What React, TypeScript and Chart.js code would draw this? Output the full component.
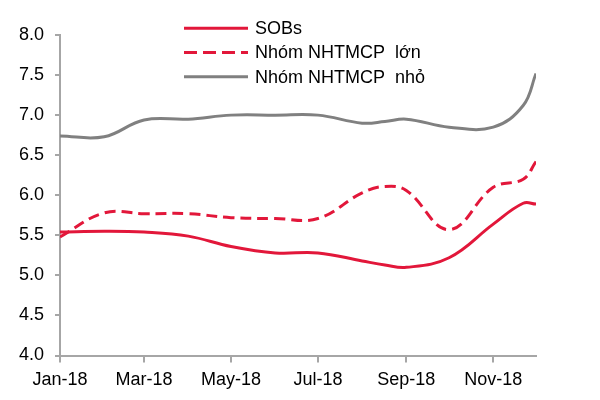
import React, { useEffect, useRef } from "react";
import { Chart, registerables } from "chart.js";

Chart.register(...registerables);

// day offsets from 1 Jan 2018
const days = [0, 31, 59, 90, 120, 151, 181, 212, 228, 243, 273, 304, 325, 334];
const sobs = [5.54, 5.55, 5.54, 5.49, 5.36, 5.28, 5.28, 5.18, 5.13, 5.1, 5.22, 5.64, 5.9, 5.89];
const nhomLon = [5.48, 5.78, 5.77, 5.77, 5.72, 5.71, 5.71, 6.03, 6.11, 6.06, 5.57, 6.1, 6.2, 6.42];
const nhomNho = [6.74, 6.73, 6.94, 6.95, 7.0, 7.0, 7.0, 6.9, 6.92, 6.95, 6.85, 6.85, 7.12, 7.52];

const tickDays = [0, 59, 120, 181, 243, 304];
const tickLabels = ["Jan-18", "Mar-18", "May-18", "Jul-18", "Sep-18", "Nov-18"];

const seriesNames = ["SOBs", "Nhóm NHTMCP  lớn", "Nhóm NHTMCP  nhỏ"];

const RED = "#e2173a";
const GRAY = "#808080";
const AXIS = "#a6a6a6";
const FONT = '"Liberation Sans", Arial, sans-serif';

const legendPlugin = {
  id: "customLegend",
  afterDraw(chart: any) {
    const ctx = chart.ctx;
    const items = chart.data.datasets;
    ctx.save();
    items.forEach((ds: any, i: number) => {
      const y = 28.3 + i * 24.2;
      ctx.beginPath();
      ctx.strokeStyle = ds.borderColor;
      ctx.lineWidth = 3;
      ctx.setLineDash(ds.borderDash ? [13, 6] : []);
      ctx.moveTo(184, y);
      ctx.lineTo(248, y);
      ctx.stroke();
      ctx.setLineDash([]);
      ctx.fillStyle = "#000";
      ctx.font = `18px ${FONT}`;
      ctx.textBaseline = "middle";
      ctx.textAlign = "left";
      ctx.fillText(ds.label, 255, y + 1);
    });
    ctx.restore();
  },
};

export default function App() {
  const ref = useRef<HTMLCanvasElement>(null);
  useEffect(() => {
    if (!ref.current) return;
    const mk = (vals: number[]) => days.map((d, i) => ({ x: d, y: vals[i] }));
    const chart = new Chart(ref.current, {
      type: "line",
      data: {
        datasets: [
          { label: seriesNames[0], data: mk(sobs), borderColor: RED, borderWidth: 3, pointRadius: 0, tension: 0.4, fill: false },
          { label: seriesNames[1], data: mk(nhomLon), borderColor: RED, borderWidth: 3, borderDash: [11, 6], pointRadius: 0, tension: 0.4, fill: false },
          { label: seriesNames[2], data: mk(nhomNho), borderColor: GRAY, borderWidth: 3, pointRadius: 0, tension: 0.4, fill: false },
        ],
      },
      options: {
        responsive: false,
        animation: false,
        layout: { padding: { left: 0, right: 64, top: 35, bottom: 0 } },
        plugins: { legend: { display: false }, tooltip: { enabled: false } },
        scales: {
          x: {
            type: "linear",
            min: 0,
            max: 334,
            afterBuildTicks: (s: any) => {
              s.ticks = tickDays.map((v) => ({ value: v }));
            },
            afterFit: (s: any) => {
              s.height = 44.5;
            },
            ticks: {
              autoSkip: false,
              maxRotation: 0,
              padding: 7,
              color: "#000",
              font: { family: FONT, size: 18 },
              callback: (v: any) => {
                const idx = tickDays.indexOf(Number(v));
                return idx >= 0 ? tickLabels[idx] : "";
              },
            },
            grid: { display: true, drawOnChartArea: false, drawTicks: true, tickLength: 7, color: AXIS, lineWidth: 2 },
            border: { display: true, color: AXIS, width: 2 },
          },
          y: {
            min: 4,
            max: 8,
            afterFit: (s: any) => {
              s.width = 60;
            },
            ticks: {
              stepSize: 0.5,
              padding: 11,
              color: "#000",
              font: { family: FONT, size: 18 },
              callback: (v: any) => Number(v).toFixed(1),
            },
            grid: { display: true, drawOnChartArea: false, drawTicks: true, tickLength: 5, color: AXIS, lineWidth: 2 },
            border: { display: true, color: AXIS, width: 2 },
          },
        },
      },
      plugins: [legendPlugin],
    });
    return () => chart.destroy();
  }, []);
  return (
    <div style={{ position: "fixed", left: 0, top: 0, width: 600, height: 400, background: "#fff" }}>
      <canvas ref={ref} width={600} height={400} />
    </div>
  );
}
